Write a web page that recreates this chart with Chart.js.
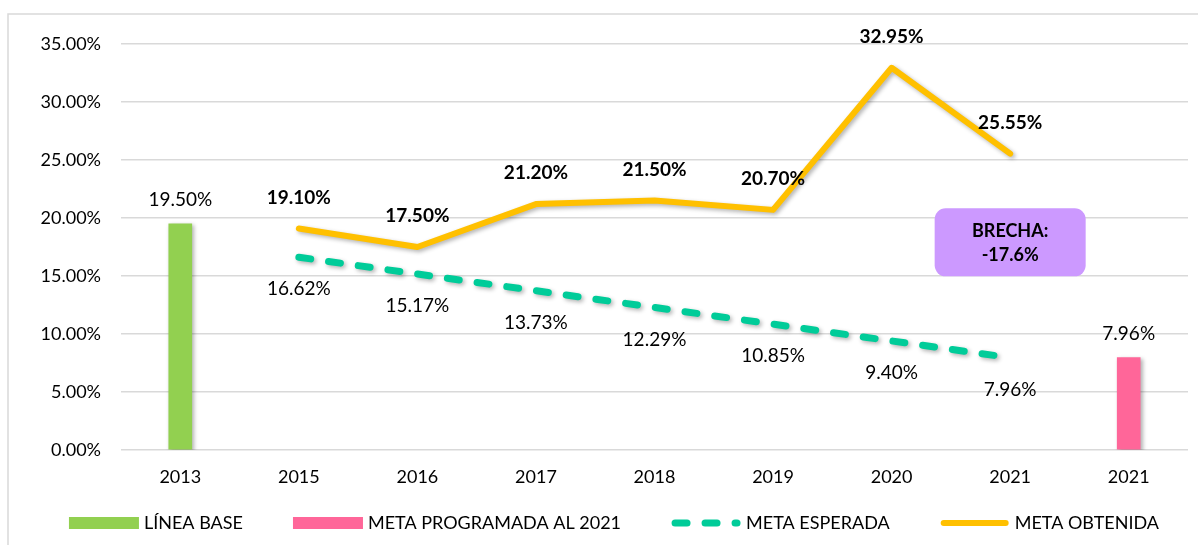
<!DOCTYPE html>
<html>
<head>
<meta charset="utf-8">
<script src="https://cdn.jsdelivr.net/npm/chart.js@4.4.1/dist/chart.umd.min.js"></script>
<style>
  body { margin: 0; background: #fff; }
  #wrap { width: 1198px; height: 545px; }
</style>
</head>
<body>
<div id="wrap"><canvas id="myChart" width="1198" height="545"></canvas></div>
<script>
// categories (last 2021 is the programmed goal bar)
const years = ['2013', '2015', '2016', '2017', '2018', '2019', '2020', '2021', '2021'];

// series values in %
const lineaBase = [19.50, null, null, null, null, null, null, null, null];
const metaProgramada = [null, null, null, null, null, null, null, null, 7.96];
const metaEsperada = [null, 16.62, 15.17, 13.73, 12.29, 10.85, 9.40, 7.96, null];
const metaObtenida = [null, 19.10, 17.50, 21.20, 21.50, 20.70, 32.95, 25.55, null];

// y axis ticks
const yTicks = [0, 5, 10, 15, 20, 25, 30, 35];

// gap note
const brechaText = ['BRECHA:', '-17.6%'];

const fontName = 'Lato, "Open Sans", sans-serif';

// value labels over/under the marks
const labelPlugin = {
    id: 'valueLabels',
    afterDatasetsDraw(chart) {
        const ctx = chart.ctx;
        ctx.save();
        ctx.textAlign = 'center';
        ctx.textBaseline = 'middle';
        ctx.fillStyle = '#000';
        chart.data.datasets.forEach((ds, di) => {
            const meta = chart.getDatasetMeta(di);
            ds.data.forEach((v, i) => {
                if (v === null) return;
                const el = meta.data[i];
                let y;
                if (ds.type === 'bar') {
                    ctx.font = '19px ' + fontName;
                    y = el.y - 24;
                } else if (ds.label === 'META OBTENIDA') {
                    ctx.font = 'bold 19px ' + fontName;
                    y = el.y - 31;
                } else {
                    ctx.font = '19px ' + fontName;
                    y = el.y + 32;
                }
                ctx.fillText(v.toFixed(2) + '%', el.x, y);
            });
        });

        // BRECHA box placed on the 2021 category
        const xs = chart.scales.x, ys = chart.scales.y;
        const cx = xs.getPixelForValue(7);
        const cy = ys.getPixelForValue(17.9);
        const w = 151, h = 68;
        ctx.fillStyle = '#cc99ff';
        ctx.beginPath();
        ctx.roundRect(cx - w / 2, cy - h / 2, w, h, 11);
        ctx.fill();
        ctx.fillStyle = '#000';
        ctx.font = 'bold 18px ' + fontName;
        ctx.fillText(brechaText[0], cx, cy - 11);
        ctx.fillText(brechaText[1], cx, cy + 13);
        ctx.restore();
    }
};

// soft shadow like the office chart
const shadowPlugin = {
    id: 'shadow',
    beforeDatasetDraw(chart) {
        const ctx = chart.ctx;
        ctx.save();
        ctx.shadowColor = 'rgba(0,0,0,0.3)';
        ctx.shadowBlur = 4;
        ctx.shadowOffsetX = 2;
        ctx.shadowOffsetY = 2;
    },
    afterDatasetDraw(chart) {
        chart.ctx.restore();
    }
};

// frame + legend drawn by hand
const framePlugin = {
    id: 'frameLegend',
    beforeDraw(chart) {
        const ctx = chart.ctx;
        ctx.save();
        ctx.strokeStyle = '#d9d9d9';
        ctx.lineWidth = 1.5;
        ctx.strokeRect(8, 14, 1400, 800);
        ctx.restore();
    },
    afterDraw(chart) {
        const ctx = chart.ctx;
        ctx.save();
        ctx.font = '18px ' + fontName;
        ctx.textBaseline = 'middle';
        ctx.fillStyle = '#000';
        const boxW = 70, gapIn = 5, gapOut = 50;
        const items = chart.data.datasets.slice().sort((a, b) => a.legendOrder - b.legendOrder);
        let total = 0;
        items.forEach((ds, k) => {
            total += boxW + gapIn + ctx.measureText(ds.label).width;
            if (k < items.length - 1) total += gapOut;
        });
        let x = 614 - total / 2;
        const y = 523;
        items.forEach(ds => {
            ctx.save();
            if (ds.type === 'bar') {
                ctx.fillStyle = ds.backgroundColor;
                ctx.fillRect(x, y - 6, boxW, 12);
            } else {
                ctx.strokeStyle = ds.borderColor;
                ctx.lineWidth = ds.borderWidth;
                ctx.lineCap = 'round';
                ctx.setLineDash(ds.borderDash || []);
                ctx.beginPath();
                ctx.moveTo(x + 4, y);
                ctx.lineTo(x + boxW - 4, y);
                ctx.stroke();
            }
            ctx.restore();
            x += boxW + gapIn;
            ctx.fillText(ds.label, x, y);
            x += ctx.measureText(ds.label).width + gapOut;
        });
        ctx.restore();
    }
};

const myChart = document.getElementById('myChart');

let comboChart = new Chart(myChart, {
    data: {
        labels: years,
        datasets: [
            {
                type: 'line',
                label: 'META OBTENIDA',
                data: metaObtenida,
                borderColor: '#ffc000',
                backgroundColor: '#ffc000',
                borderWidth: 6,
                borderCapStyle: 'round',
                borderJoinStyle: 'round',
                pointRadius: 0,
                tension: 0,
                order: 1,
                legendOrder: 4
            },
            {
                type: 'line',
                label: 'META ESPERADA',
                data: metaEsperada,
                borderColor: '#00cc99',
                backgroundColor: '#00cc99',
                borderWidth: 7,
                borderDash: [12, 18],
                borderCapStyle: 'round',
                pointRadius: 0,
                tension: 0,
                order: 2,
                legendOrder: 3
            },
            {
                type: 'bar',
                label: 'LÍNEA BASE',
                data: lineaBase,
                backgroundColor: '#92d050',
                barThickness: 23,
                skipNull: true,
                order: 3,
                legendOrder: 1
            },
            {
                type: 'bar',
                label: 'META PROGRAMADA AL 2021',
                data: metaProgramada,
                backgroundColor: '#ff6699',
                barThickness: 23,
                skipNull: true,
                order: 4,
                legendOrder: 2
            }
        ]
    },
    options: {
        responsive: false,
        animation: false,
        layout: { padding: { top: 44, right: 10, left: 0, bottom: 0 } },
        plugins: {
            legend: { display: false },
            tooltip: { enabled: false }
        },
        scales: {
            x: {
                grid: { display: false, drawTicks: false },
                border: { display: false },
                ticks: {
                    color: '#000',
                    font: { family: fontName, size: 18 },
                    padding: 16
                },
                afterFit(scale) { scale.height = 95; }
            },
            y: {
                min: 0,
                max: 35,
                afterBuildTicks(scale) { scale.ticks = yTicks.map(v => ({ value: v })); },
                grid: { color: '#d9d9d9', lineWidth: 1.5, drawTicks: false },
                border: { display: false },
                ticks: {
                    color: '#000',
                    font: { family: fontName, size: 18 },
                    padding: 20,
                    callback: v => v.toFixed(2) + '%'
                },
                afterFit(scale) { scale.width = 121; }
            }
        }
    },
    plugins: [shadowPlugin, labelPlugin, framePlugin]
});
</script>
</body>
</html>
